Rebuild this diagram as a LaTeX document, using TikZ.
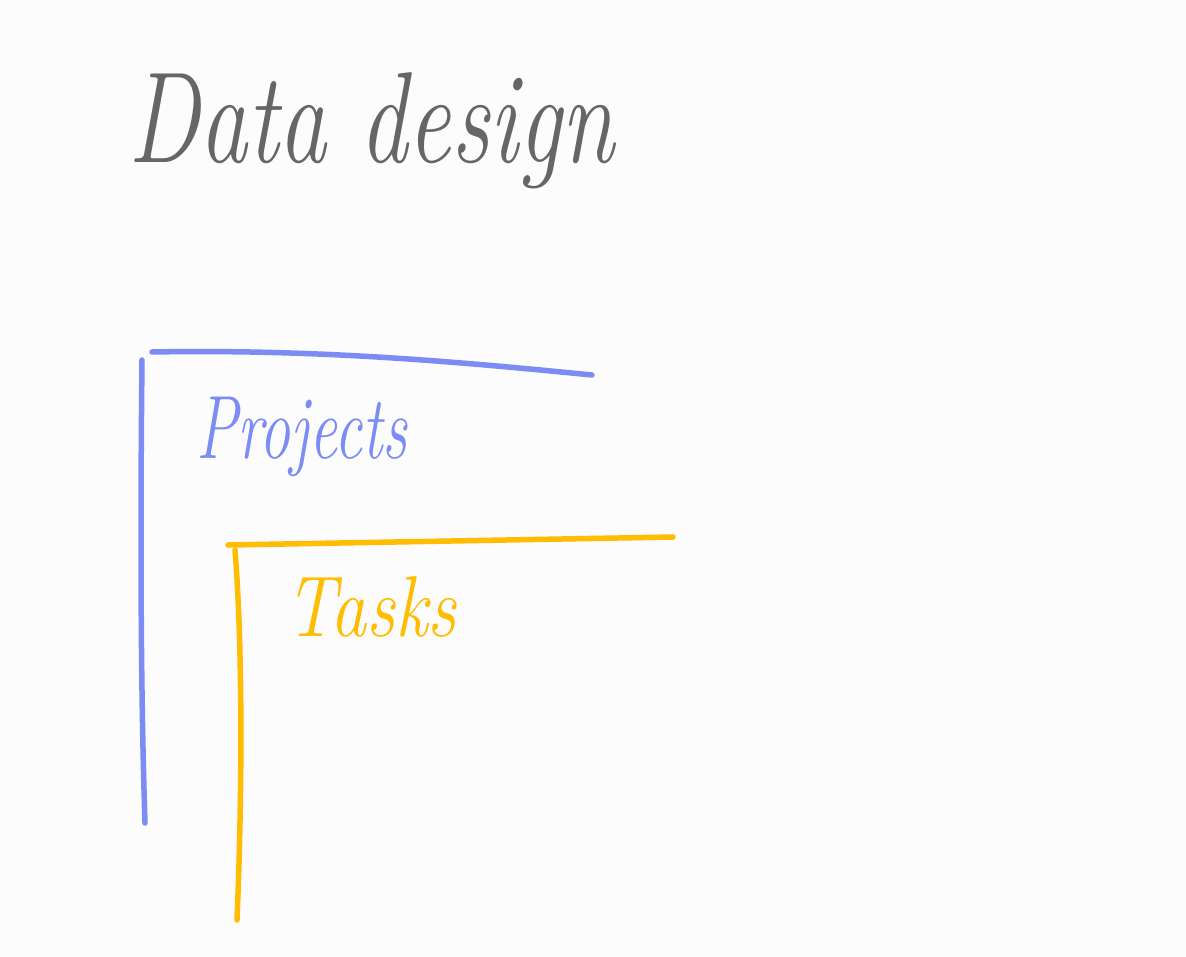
\documentclass[tikz,border=0pt]{standalone}
\usepackage{fontspec}

\definecolor{penGray}{HTML}{666666}
\definecolor{penBlue}{HTML}{7B8CF5}
\definecolor{penGold}{HTML}{FFBC00}
\definecolor{paper}{HTML}{FCFCFC}

\begin{document}
\begin{tikzpicture}[x=1pt,y=-1pt]
    \tikzset{
      stroke/.style={line width=5.5pt,line cap=round,line join=round},
      word/.style={anchor=base west,inner sep=0pt,font=\itshape}
    }
    \fill[paper] (0,0) rectangle (1186,956);
    \useasboundingbox (0,0) rectangle (1186,956);

    % heading
    \node[word,text=penGray,yscale=1.35,font=\fontsize{96}{96}\selectfont\itshape] (title) at (128,162) {Data design};

    % outer table
    \draw[stroke,penBlue] (152,352) .. controls (320,349) and (460,362) .. (592,375);
    \draw[stroke,penBlue] (142,360) .. controls (140,550) and (141,700) .. (145,823);
    \node[word,text=penBlue,yscale=1.45,font=\fontsize{62}{62}\selectfont\itshape] (projects) at (196,458) {Projects};

    % inner table
    \draw[stroke,penGold] (228,545) -- (673,537);
    \draw[stroke,penGold] (235,550) .. controls (243,650) and (242,800) .. (237,920);
    \node[word,text=penGold,yscale=1.2,font=\fontsize{72}{72}\selectfont\itshape] (tasks) at (285,636) {Tasks};
\end{tikzpicture}
\end{document}
